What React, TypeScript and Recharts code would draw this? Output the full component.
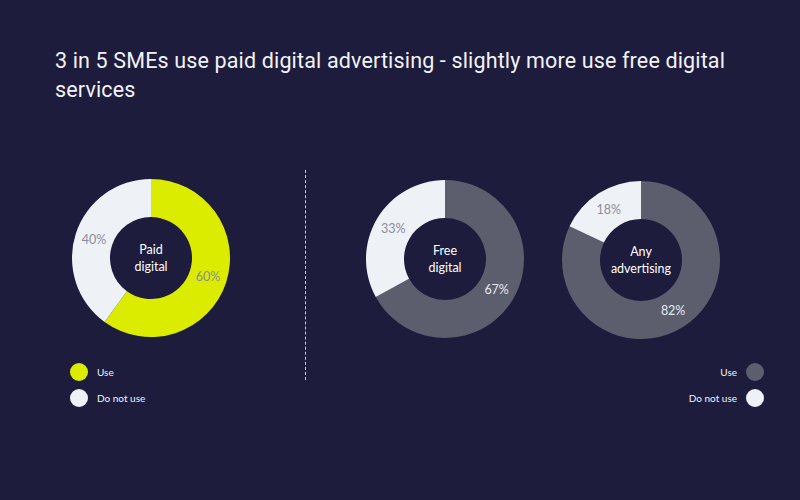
import React from 'react';
import { PieChart, Pie, Cell } from 'recharts';

const categories = ['Use', 'Do not use'];
const paidDigital = [60, 40];
const freeDigital = [67, 33];
const anyAdvertising = [82, 18];

const BG = '#1e1c3c';
const YELLOW = '#dcec00';
const GREY = '#5c5d6d';
const LIGHT = '#eef2f7';
const RADIAN = Math.PI / 180;

const toRows = (values: number[]) => categories.map((name, i) => ({ name, value: values[i] }));

// percentage inside the ring; the first slice also carries the centre title
const makeLabel = (colors: string[], title: string[]) => (props: any) => {
  const { cx, cy, midAngle, innerRadius, outerRadius, value, index } = props;
  const r = (innerRadius + outerRadius) / 2;
  const x = cx + r * Math.cos(-midAngle * RADIAN);
  const y = cy + r * Math.sin(-midAngle * RADIAN);
  return (
    <g>
      <text x={x} y={y} fill={colors[index] === GREY ? '#e6e9ef' : '#8a8c98'} textAnchor="middle" dominantBaseline="central"
        fontSize={12.5} fontFamily="Lato, sans-serif">
        {`${value}%`}
      </text>
      {index === 0 && (
        <text x={cx} y={cy} fill="#ffffff" textAnchor="middle" fontSize={12.5} fontFamily="Lato, sans-serif">
          {title.map((l, i) => (
            <tspan key={i} x={cx} y={cy + (i - 0.5) * 17 + 4}>{l}</tspan>
          ))}
        </text>
      )}
    </g>
  );
};

const donuts = [
  { values: paidDigital, colors: [YELLOW, LIGHT], cx: 151, cy: 258, title: ['Paid', 'digital'] },
  { values: freeDigital, colors: [GREY, LIGHT], cx: 445, cy: 259, title: ['Free', 'digital'] },
  { values: anyAdvertising, colors: [GREY, LIGHT], cx: 641, cy: 260, title: ['Any', 'advertising'] },
];

const dot = (color: string) => (
  <span style={{ display: 'inline-block', width: 18, height: 18, borderRadius: 9, background: color }} />
);

export default function App() {
  return (
    <div style={{ position: 'absolute', left: 0, top: 0, width: 800, height: 500, background: BG, overflow: 'hidden' }}>
      <div style={{ position: 'absolute', left: 55, top: 46, width: 720, color: '#f2f3f7', fontFamily: 'Roboto, sans-serif',
        fontSize: 21.5, lineHeight: '29px', letterSpacing: 0.15 }}>
        3 in 5 SMEs use paid digital advertising - slightly more use free digital services
      </div>
      <div style={{ position: 'absolute', top: 0, left: 0 }}>
        <PieChart width={800} height={500} margin={{ top: 0, right: 0, bottom: 0, left: 0 }}>
          {donuts.map((d, k) => (
            <Pie key={k} data={toRows(d.values)} dataKey="value" nameKey="name" cx={d.cx} cy={d.cy}
              innerRadius={41} outerRadius={79} startAngle={90} endAngle={-270} stroke="none"
              labelLine={false} label={makeLabel(d.colors, d.title)} isAnimationActive={false}>
              {d.values.map((_, i) => <Cell key={i} fill={d.colors[i]} />)}
            </Pie>
          ))}
        </PieChart>
      </div>
      <div style={{ position: 'absolute', left: 305, top: 170, height: 210, borderLeft: '1px dashed #c8cad2' }} />
      <div style={{ position: 'absolute', left: 70, top: 359, fontFamily: 'Lato, sans-serif', fontSize: 10, color: '#f2f3f7' }}>
        {categories.map((c, i) => (
          <div key={c} style={{ display: 'flex', alignItems: 'center', height: 26 }}>
            {dot(i === 0 ? YELLOW : LIGHT)}
            <span style={{ marginLeft: 9 }}>{c}</span>
          </div>
        ))}
      </div>
      <div style={{ position: 'absolute', right: 36, top: 359, fontFamily: 'Lato, sans-serif', fontSize: 10, color: '#f2f3f7' }}>
        {categories.map((c, i) => (
          <div key={c} style={{ display: 'flex', alignItems: 'center', justifyContent: 'flex-end', height: 26 }}>
            <span style={{ marginRight: 9 }}>{c}</span>
            {dot(i === 0 ? GREY : LIGHT)}
          </div>
        ))}
      </div>
    </div>
  );
}
